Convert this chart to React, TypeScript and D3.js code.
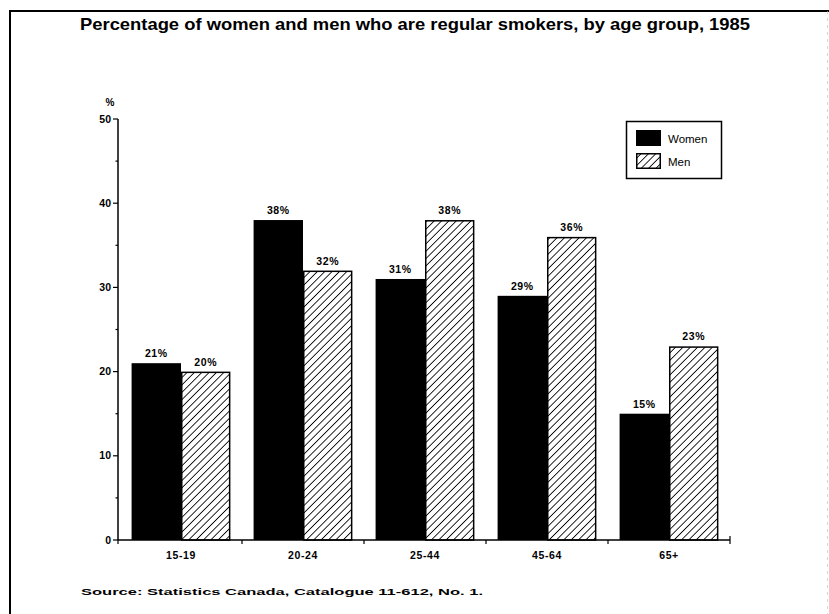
import React from "react";
import * as d3 from "d3";

const ageGroups = ["15-19", "20-24", "25-44", "45-64", "65+"];
const women = [21, 38, 31, 29, 15];
const men = [20, 32, 38, 36, 23];
const seriesNames = ["Women", "Men"];
const yTicks = [0, 10, 20, 30, 40, 50];
const yMinorTicks = [5, 15, 25, 35, 45];

const W = 829;
const H = 614;
const margin = { left: 118, right: 101, top: 119, bottom: 74 };
const font = "'Liberation Sans', Arial, Helvetica, sans-serif";

export default function App() {
  const plotW = W - margin.left - margin.right;
  const y = d3.scaleLinear().domain([0, 50]).range([H - margin.bottom, margin.top]);
  const x = d3
    .scaleBand<string>()
    .domain(ageGroups)
    .range([margin.left + 2, margin.left + 2 + plotW])
    .paddingInner(0.19)
    .paddingOuter(0.095);
  const xs = d3.scaleBand<string>().domain(seriesNames).range([0, x.bandwidth()]);
  const base = y(0);
  const boundaries = ageGroups.map((_, i) => margin.left + 2 + (plotW / ageGroups.length) * (i + 1));

  const bars = ageGroups.flatMap((g, i) => [
    { g, s: "Women", v: women[i] },
    { g, s: "Men", v: men[i] },
  ]);

  return (
    <svg width={W} height={H} style={{ position: "absolute", left: 0, top: 0, background: "#fff" }}>
      <defs>
        <pattern id="hatch" patternUnits="userSpaceOnUse" width="5.2" height="5.2" patternTransform="rotate(45)">
          <line x1="0" y1="0" x2="0" y2="5.2" stroke="#000" strokeWidth="1.7" />
        </pattern>
      </defs>
      <rect x={0} y={0} width={W} height={H} fill="#fff" />
      {/* frame */}
      <line x1={9.5} y1={11} x2={W} y2={11} stroke="#000" strokeWidth={2} />
      <line x1={10} y1={10} x2={10} y2={H} stroke="#000" strokeWidth={2} />
      <line x1={827.5} y1={11} x2={827.5} y2={H} stroke="#bbb" strokeWidth={0.6} strokeDasharray="3 4" />

      <text
        x={80}
        y={30}
        textLength={670}
        lengthAdjust="spacingAndGlyphs"
        fontFamily={font}
        fontWeight="bold"
        fontSize={17}
      >
        Percentage of women and men who are regular smokers, by age group, 1985
      </text>

      {/* bars */}
      {bars.map((b) => {
        const bx = (x(b.g) ?? 0) + (xs(b.s) ?? 0);
        const by = y(b.v);
        const bw = xs.bandwidth();
        return (
          <g key={b.g + b.s}>
            {b.s === "Women" ? (
              <rect x={bx} y={by} width={bw} height={base - by} fill="#000" />
            ) : (
              <rect
                x={bx + 0.75}
                y={by + 0.75}
                width={bw - 1.5}
                height={base - by - 0.75}
                fill="url(#hatch)"
                stroke="#000"
                strokeWidth={1.5}
              />
            )}
            <text
              x={bx + bw / 2}
              y={by - 6}
              textAnchor="middle"
              fontFamily={font}
              fontWeight="bold"
              fontSize={10.5}
              letterSpacing={0.6}
            >
              {b.v}%
            </text>
          </g>
        );
      })}

      {/* y axis */}
      <line x1={margin.left} y1={y(50)} x2={margin.left} y2={base} stroke="#000" strokeWidth={1.5} />
      {yTicks.map((t) => (
        <g key={t}>
          <line x1={margin.left - 5} x2={margin.left} y1={y(t)} y2={y(t)} stroke="#000" strokeWidth={1.2} />
          <text
            x={margin.left - 7}
            y={y(t) + 3.5}
            textAnchor="end"
            fontFamily={font}
            fontWeight="bold"
            fontSize={10.5}
          >
            {t}
          </text>
        </g>
      ))}
      {yMinorTicks.map((t) => (
        <line key={t} x1={margin.left - 2.5} x2={margin.left} y1={y(t)} y2={y(t)} stroke="#000" strokeWidth={1.2} />
      ))}
      <text x={110} y={106} textAnchor="middle" fontFamily={font} fontWeight="bold" fontSize={10}>
        %
      </text>

      {/* x axis */}
      <line x1={margin.left} y1={base} x2={boundaries[boundaries.length - 1]} y2={base} stroke="#000" strokeWidth={1.5} />
      <line x1={margin.left} y1={base} x2={margin.left} y2={base + 4} stroke="#000" strokeWidth={1.2} />
      {boundaries.map((bx, i) => (
        <line
          key={i}
          x1={bx}
          x2={bx}
          y1={i === boundaries.length - 1 ? base - 4 : base}
          y2={base + 4}
          stroke="#000"
          strokeWidth={1.2}
        />
      ))}
      {ageGroups.map((g) => (
        <text
          key={g}
          x={(x(g) ?? 0) + x.bandwidth() / 2}
          y={base + 19}
          textAnchor="middle"
          fontFamily={font}
          fontWeight="bold"
          fontSize={10.5}
          letterSpacing={0.6}
        >
          {g}
        </text>
      ))}

      {/* legend */}
      <rect x={626.5} y={121.5} width={95} height={57} fill="#fff" stroke="#000" strokeWidth={1.5} />
      <rect x={636} y={130} width={25} height={16} fill="#000" />
      <rect x={636.75} y={153.75} width={23.5} height={14.5} fill="url(#hatch)" stroke="#000" strokeWidth={1.5} />
      <text x={668} y={143} fontFamily={font} fontSize={11.5}>
        {seriesNames[0]}
      </text>
      <text x={668} y={166} fontFamily={font} fontSize={11.5}>
        {seriesNames[1]}
      </text>

      <text
        x={81}
        y={595}
        textLength={402}
        lengthAdjust="spacingAndGlyphs"
        fontFamily={font}
        fontWeight="bold"
        fontSize={9.5}
      >
        Source: Statistics Canada, Catalogue 11-612, No. 1.
      </text>
    </svg>
  );
}
